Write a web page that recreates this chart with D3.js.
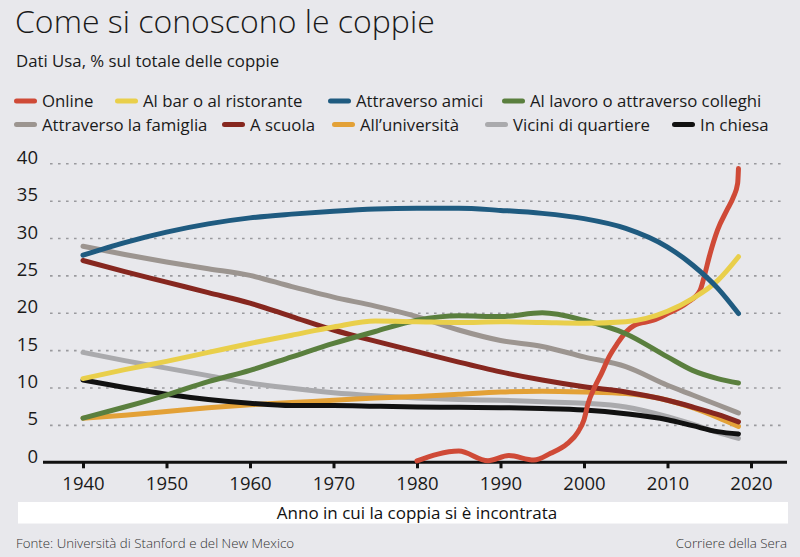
<!DOCTYPE html>
<html>
<head>
<meta charset="utf-8">
<script src="https://cdn.jsdelivr.net/npm/d3@7"></script>
<style>
  html, body { margin: 0; padding: 0; background: #e8e8ec; }
  svg { display: block; font-family: "Open Sans", "DejaVu Sans", sans-serif; }
</style>
</head>
<body>
<svg id="chart" width="800" height="557"></svg>
<script>
// ---------------- DATA ----------------
const title = "Come si conoscono le coppie";
const subtitle = "Dati Usa, % sul totale delle coppie";
const xAxisTitle = "Anno in cui la coppia si è incontrata";
const source = "Fonte: Università di Stanford e del New Mexico";
const credit = "Corriere della Sera";

const xTicks = [1940, 1950, 1960, 1970, 1980, 1990, 2000, 2010, 2020];
const yTicks = [0, 5, 10, 15, 20, 25, 30, 35, 40];

const years = [1940, 1945, 1950, 1955, 1960, 1965, 1970, 1975, 1980, 1985, 1990, 1995, 2000, 2005, 2010, 2013, 2016, 2018.5];

const onlineYears  = [1980, 1985, 1988.5, 1991, 1994, 1996, 1998, 1999.3, 2000, 2000.5, 2001.3, 2002.1, 2003, 2004, 2005, 2006, 2008.3, 2010, 2012.3, 2013.9, 2014.5, 2015, 2016, 2017.1, 2017.9, 2018.4, 2018.5];
const onlineValues = [0.2, 1.5, 0.2, 0.9, 0.3, 1.2, 2.5, 4.1, 5.7, 7.9, 10.1, 11.9, 14.1, 15.9, 17.4, 18.3, 19.0, 19.9, 21.3, 23.0, 25.3, 27.5, 31.1, 33.7, 35.5, 37.3, 39.3];

const barValues        = [11.2, 12.4, 13.5, 14.7, 15.9, 17.0, 18.1, 18.9, 18.8, 18.7, 18.8, 18.7, 18.6, 18.8, 20.2, 21.9, 24.3, 27.5];
const amiciValues      = [27.7, 29.4, 30.8, 31.9, 32.7, 33.2, 33.6, 33.9, 34.0, 34.0, 33.7, 33.3, 32.6, 31.3, 28.8, 26.4, 23.3, 19.9];
const lavoroValues     = [5.9, 7.4, 9.0, 10.8, 12.3, 14.1, 15.9, 17.5, 19.0, 19.6, 19.5, 20.0, 19.0, 17.2, 14.1, 12.3, 11.2, 10.6];
const famigliaValues   = [28.9, 27.8, 26.8, 25.9, 25.0, 23.5, 22.1, 20.9, 19.5, 17.7, 16.3, 15.5, 14.1, 12.8, 10.3, 9.0, 7.7, 6.6];
const scuolaValues     = [27.0, 25.5, 24.1, 22.7, 21.3, 19.5, 17.7, 16.2, 14.8, 13.4, 12.1, 11.0, 10.1, 9.4, 8.3, 7.4, 6.4, 5.4];
const universitaValues = [5.9, 6.3, 6.8, 7.3, 7.7, 8.0, 8.3, 8.6, 8.8, 9.1, 9.4, 9.5, 9.4, 9.2, 8.3, 7.3, 6.0, 4.8];
const viciniValues     = [14.7, 13.6, 12.6, 11.6, 10.6, 9.9, 9.3, 8.9, 8.6, 8.4, 8.3, 8.1, 7.9, 7.4, 6.1, 5.1, 4.0, 3.2];
const chiesaValues     = [11.0, 10.0, 9.1, 8.4, 7.9, 7.6, 7.6, 7.5, 7.4, 7.35, 7.3, 7.2, 7.0, 6.5, 5.7, 4.9, 4.1, 3.8];

const seriesNames = ["Online", "Al bar o al ristorante", "Attraverso amici", "Al lavoro o attraverso colleghi",
                     "Attraverso la famiglia", "A scuola", "All\u2019università", "Vicini di quartiere", "In chiesa"];
const seriesColors = ["#cf4a37", "#e9cf4b", "#1f5b80", "#5a7f3e", "#9c9590", "#86271f", "#e3a137", "#aaaaad", "#111111"];

// ---------------- BUILD ----------------
const seriesData = [
  { name: seriesNames[0], color: seriesColors[0], xs: onlineYears, ys: onlineValues },
  { name: seriesNames[1], color: seriesColors[1], xs: years, ys: barValues },
  { name: seriesNames[2], color: seriesColors[2], xs: years, ys: amiciValues },
  { name: seriesNames[3], color: seriesColors[3], xs: years, ys: lavoroValues },
  { name: seriesNames[4], color: seriesColors[4], xs: years, ys: famigliaValues },
  { name: seriesNames[5], color: seriesColors[5], xs: years, ys: scuolaValues },
  { name: seriesNames[6], color: seriesColors[6], xs: years, ys: universitaValues },
  { name: seriesNames[7], color: seriesColors[7], xs: years, ys: viciniValues },
  { name: seriesNames[8], color: seriesColors[8], xs: years, ys: chiesaValues }
];

const svg = d3.select("#chart");
const W = 800, H = 557;

svg.append("rect").attr("width", W).attr("height", H).attr("fill", "#e8e8ec");

// titles
svg.append("text").attr("x", 15).attr("y", 33)
  .attr("font-size", 32).attr("font-weight", 300).attr("fill", "#1a1a1a")
  .text(title);
svg.append("text").attr("x", 16).attr("y", 66.5)
  .attr("font-size", 16.8).attr("fill", "#1a1a1a")
  .text(subtitle);

// legend layout (positions only)
const legendRows = [
  { y: 101, items: [[0, 14], [1, 115], [2, 328], [3, 502]] },
  { y: 124.5, items: [[4, 14], [5, 222], [6, 332], [7, 485], [8, 672]] }
];
legendRows.forEach(row => {
  row.items.forEach(([i, lx]) => {
    const g = svg.append("g");
    g.append("line")
      .attr("x1", lx + 2.5).attr("x2", lx + 20.5)
      .attr("y1", row.y).attr("y2", row.y)
      .attr("stroke", seriesColors[i]).attr("stroke-width", 5)
      .attr("stroke-linecap", "round");
    g.append("text")
      .attr("x", lx + 28).attr("y", row.y + 6)
      .attr("font-size", 16.8).attr("fill", "#1a1a1a")
      .text(seriesNames[i]);
  });
});

// scales
const x = d3.scaleLinear().domain([1940, 2020]).range([83, 751]);
const y = d3.scaleLinear().domain([0, 40]).range([462.3, 163.3]);

// grid lines (dotted)
const grid = svg.append("g")
  .attr("transform", "translate(50,0)")
  .call(d3.axisLeft(y).tickValues(yTicks.filter(d => d > 0)).tickSize(-732).tickFormat(""));
grid.select(".domain").remove();
grid.selectAll(".tick line")
  .attr("stroke", "#9a9a9e").attr("stroke-width", 1.6)
  .attr("stroke-dasharray", "2.6,5.4");

// y labels
svg.append("g").selectAll("text").data(yTicks).join("text")
  .attr("x", 38).attr("y", d => y(d) + 0.5)
  .attr("text-anchor", "end")
  .attr("font-size", 18.5).attr("fill", "#1a1a1a")
  .text(d => d);

// x axis
const xAxis = svg.append("g")
  .attr("transform", `translate(0,${y(0)})`)
  .call(d3.axisBottom(x).tickValues(xTicks).tickSize(6).tickPadding(10).tickFormat(d3.format("d")));
xAxis.select(".domain").remove();
xAxis.selectAll(".tick line").attr("stroke", "#111").attr("stroke-width", 3);
xAxis.selectAll(".tick text")
  .attr("font-size", 18.5).attr("fill", "#1a1a1a")
  .attr("font-family", "\"Open Sans\", sans-serif")
  .attr("dy", null).attr("y", 28);
svg.append("line")
  .attr("x1", 43).attr("x2", 787)
  .attr("y1", y(0)).attr("y2", y(0))
  .attr("stroke", "#111").attr("stroke-width", 3);

// lines
const line = d3.line().curve(d3.curveMonotoneX);
const drawOrder = [7, 6, 8, 5, 4, 0, 3, 1, 2];
svg.append("g").selectAll("path")
  .data(drawOrder.map(i => seriesData[i]))
  .join("path")
  .attr("d", s => line(s.xs.map((v, k) => [x(v), y(s.ys[k])])))
  .attr("fill", "none")
  .attr("stroke", s => s.color)
  .attr("stroke-width", 5)
  .attr("stroke-linecap", "round")
  .attr("stroke-linejoin", "round");

// axis title band
svg.append("rect").attr("x", 18).attr("y", 502).attr("width", 770).attr("height", 21.5).attr("fill", "#ffffff");
svg.append("text").attr("x", 417).attr("y", 518.5)
  .attr("text-anchor", "middle").attr("font-size", 17).attr("fill", "#111")
  .text(xAxisTitle);

// footer
svg.append("text").attr("x", 16).attr("y", 548)
  .attr("font-size", 13.3).attr("font-weight", 300).attr("fill", "#333")
  .text(source);
svg.append("text").attr("x", 787).attr("y", 548)
  .attr("text-anchor", "end")
  .attr("font-size", 13.3).attr("font-weight", 300).attr("fill", "#333")
  .text(credit);
</script>
</body>
</html>
